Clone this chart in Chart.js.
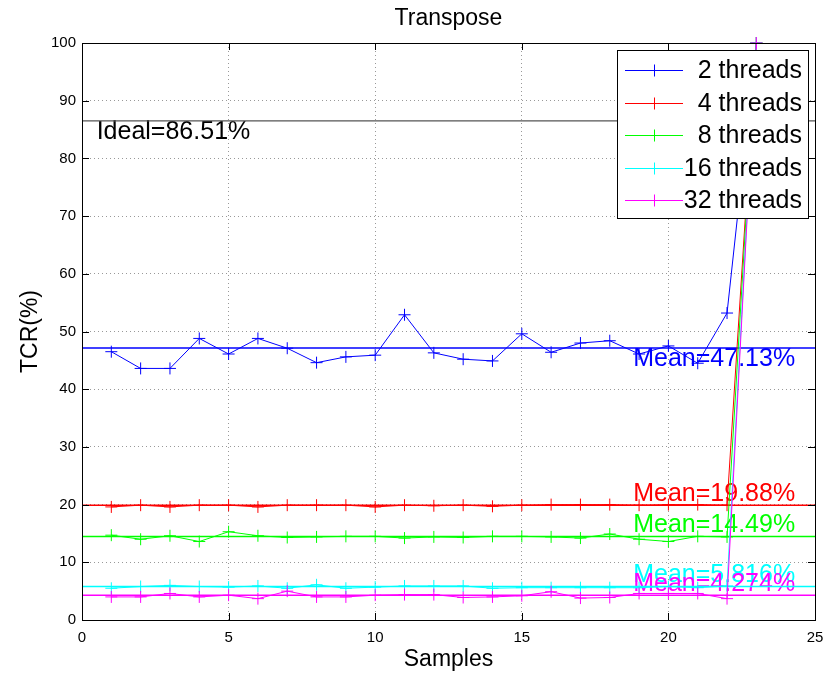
<!DOCTYPE html>
<html>
<head>
<meta charset="utf-8">
<script src="https://cdn.jsdelivr.net/npm/chart.js@4"></script>
<style>
  html, body { margin: 0; padding: 0; background: #fff; }
</style>
</head>
<body>
<canvas id="myChart" width="829" height="675"></canvas>
<script>
const samples = [1, 2, 3, 4, 5, 6, 7, 8, 9, 10, 11, 12, 13, 14, 15, 16, 17, 18, 19, 20, 21, 22, 23];

const threads2 = [46.5, 43.6, 43.6, 48.8, 46.1, 48.8, 47.1, 44.6, 45.6, 45.9, 52.9, 46.3, 45.2, 44.9, 49.6, 46.4, 48.0, 48.4, 46.1, 47.5, 44.5, 53.2, 100];
const threads4 = [19.6, 19.9, 19.6, 19.9, 19.9, 19.6, 19.9, 19.9, 19.9, 19.6, 19.9, 19.8, 19.9, 19.7, 19.9, 20.0, 20.0, 20.0, 19.9, 20.0, 20.0, 19.9, 100];
const threads8 = [14.7, 14.0, 14.6, 13.6, 15.3, 14.6, 14.3, 14.4, 14.5, 14.5, 14.2, 14.4, 14.3, 14.5, 14.5, 14.4, 14.2, 14.9, 14.0, 13.6, 14.5, 14.4, 100];
const threads16 = [5.5, 5.8, 6.0, 5.8, 5.7, 5.9, 5.5, 6.1, 5.5, 5.7, 5.9, 5.9, 5.9, 5.5, 5.6, 5.6, 5.6, 5.6, 5.6, 5.8, 5.6, 5.9, 100];
const threads32 = [4.0, 4.0, 4.6, 4.0, 4.3, 3.7, 5.0, 4.0, 4.0, 4.3, 4.4, 4.4, 3.9, 4.0, 4.2, 4.9, 3.8, 3.9, 4.6, 4.6, 4.6, 3.7, 100];

const labels = ['2 threads', '4 threads', '8 threads', '16 threads', '32 threads'];
const colors = ['#0000ff', '#ff0000', '#00ff00', '#00ffff', '#ff00ff'];
const meanValues = [47.13, 19.88, 14.49, 5.816, 4.274];
const idealTCR = 86.51;

const xTicks = [0, 5, 10, 15, 20, 25];
const yTicks = [0, 10, 20, 30, 40, 50, 60, 70, 80, 90, 100];

const font = "'Liberation Sans', Arial, Helvetica, sans-serif";
const series = [threads2, threads4, threads8, threads16, threads32];

const toPoints = (vals) => samples.map((s, i) => ({ x: s, y: vals[i] }));

const datasets = [];
series.forEach((vals, i) => {
    datasets.push({
        label: labels[i],
        data: toPoints(vals),
        borderColor: colors[i],
        backgroundColor: colors[i],
        borderWidth: 1,
        pointStyle: 'cross',
        pointRadius: 6,
        pointBorderWidth: 1,
        pointHoverRadius: 6,
        tension: 0,
        order: 10 - i, // later series on top, like matlab
        clip: { left: 0, right: 0, top: 8, bottom: 0 },
    });
});
meanValues.forEach((m, i) => {
    datasets.push({
        label: 'mean ' + labels[i],
        data: [{ x: 0, y: m }, { x: 25, y: m }],
        borderColor: colors[i],
        borderWidth: 1.5,
        pointRadius: 0,
        order: 20 - i,
    });
});
datasets.push({
    label: 'ideal',
    data: [{ x: 0, y: idealTCR }, { x: 25, y: idealTCR }],
    borderColor: '#555',
    borderWidth: 1.2,
    pointRadius: 0,
    order: 30,
});

// matlab-ish extras: title, labels, box with inward ticks, legend
const extras = {
    id: 'extras',
    beforeDatasetsDraw(chart) {
        const { ctx, chartArea: a, scales: { x, y } } = chart;
        ctx.save();
        ctx.fillStyle = '#000';
        ctx.textAlign = 'center';
        ctx.textBaseline = 'middle';
        ctx.font = '23px ' + font;
        ctx.fillText('Transpose', (a.left + a.right) / 2, 19);

        ctx.font = '25px ' + font;
        ctx.textAlign = 'left';
        ctx.fillText('Ideal=' + idealTCR + '%', x.getPixelForValue(0.5), y.getPixelForValue(idealTCR - 2));
        meanValues.forEach((m, i) => {
            ctx.fillStyle = colors[i];
            const off = i === 0 ? -2 : 2;
            ctx.fillText('Mean=' + m + '%', x.getPixelForValue(18.8), y.getPixelForValue(m + off));
        });
        ctx.restore();
    },
    afterDatasetsDraw(chart) {
        const { ctx, chartArea: a, scales: { x, y } } = chart;
        ctx.save();
        ctx.strokeStyle = '#000';
        ctx.lineWidth = 1;
        ctx.strokeRect(Math.round(a.left) + 0.5, Math.round(a.top) + 0.5, Math.round(a.width), Math.round(a.height));
        ctx.beginPath();
        xTicks.forEach(t => {
            const px = Math.round(x.getPixelForValue(t)) + 0.5;
            ctx.moveTo(px, a.bottom); ctx.lineTo(px, a.bottom - 7);
            ctx.moveTo(px, a.top); ctx.lineTo(px, a.top + 7);
        });
        yTicks.forEach(t => {
            const py = Math.round(y.getPixelForValue(t)) + 0.5;
            ctx.moveTo(a.left, py); ctx.lineTo(a.left + 7, py);
            ctx.moveTo(a.right, py); ctx.lineTo(a.right - 7, py);
        });
        ctx.stroke();
        ctx.restore();
    },
    afterDraw(chart) {
        const { ctx, chartArea: a } = chart;
        const lw = 191, lh = 168;
        const lx = Math.round(a.right - 7 - lw), ly = Math.round(a.top + 7);
        ctx.save();
        ctx.fillStyle = '#fff';
        ctx.fillRect(lx, ly, lw, lh);
        ctx.strokeStyle = '#000';
        ctx.lineWidth = 1;
        ctx.strokeRect(lx + 0.5, ly + 0.5, lw, lh);
        ctx.font = '25px ' + font;
        ctx.textAlign = 'right';
        ctx.textBaseline = 'middle';
        labels.forEach((lab, i) => {
            const ry = Math.round(ly + 20 + i * 32.5) + 0.5;
            ctx.strokeStyle = colors[i];
            ctx.beginPath();
            ctx.moveTo(lx + 8, ry); ctx.lineTo(lx + 66, ry);
            ctx.moveTo(lx + 37.5, ry - 6); ctx.lineTo(lx + 37.5, ry + 6);
            ctx.stroke();
            ctx.fillStyle = '#000';
            ctx.fillText(lab, lx + lw - 6, ry + 1);
        });
        ctx.restore();
    },
};

const ctx = document.querySelector('#myChart').getContext('2d');

const config = {
    type: 'line',
    data: { datasets },
    options: {
        responsive: false,
        animation: false,
        events: [],
        layout: { padding: { left: 0, right: 14, top: 43, bottom: 0 } },
        plugins: {
            legend: { display: false },
            tooltip: { enabled: false },
            title: { display: false },
        },
        scales: {
            x: {
                type: 'linear',
                min: 0,
                max: 25,
                afterFit: (s) => { s.height = 55; },
                afterBuildTicks: (s) => { s.ticks = xTicks.map(v => ({ value: v })); },
                ticks: { color: '#000', font: { family: font, size: 15 }, padding: 5, maxRotation: 0 },
                grid: { color: '#999', drawTicks: true, tickLength: 4, tickColor: 'rgba(0,0,0,0)' },
                border: { display: false, dash: [1, 3] },
                title: {
                    display: true, text: 'Samples', color: '#000',
                    font: { family: font, size: 23 }, padding: { top: 0, bottom: 2 },
                },
            },
            y: {
                min: 0,
                max: 100,
                afterFit: (s) => { s.width = 82; },
                afterBuildTicks: (s) => { s.ticks = yTicks.map(v => ({ value: v })); },
                ticks: { color: '#000', font: { family: font, size: 15 }, padding: 6 },
                grid: { color: '#999', drawTicks: false },
                border: { display: false, dash: [1, 3] },
                title: {
                    display: true, text: 'TCR(%)', color: '#000',
                    font: { family: font, size: 23 }, padding: { top: 17, bottom: 0 },
                },
            },
        },
    },
    plugins: [extras],
};

const myChart = new Chart(ctx, config);
</script>
</body>
</html>
